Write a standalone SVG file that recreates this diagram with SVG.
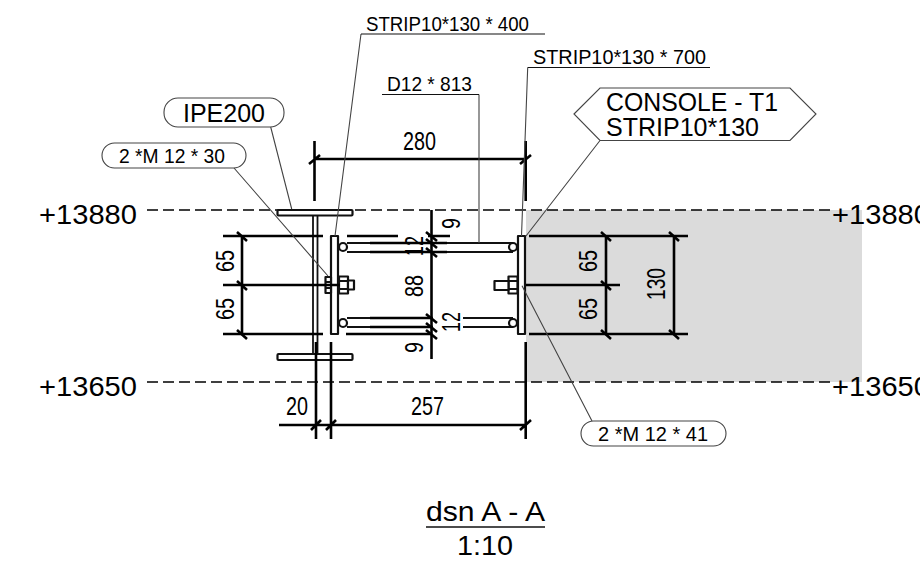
<svg xmlns="http://www.w3.org/2000/svg" width="920" height="571" viewBox="0 0 920 571">
<style>
text{font-family:"Liberation Sans",Arial,sans-serif;fill:#000}
.t{fill:none;stroke:#000;stroke-width:2.6}
.m{fill:none;stroke:#111;stroke-width:1.8}
.d{fill:none;stroke:#000;stroke-width:1.3;stroke-dasharray:11 5}
.l{fill:none;stroke:#444;stroke-width:1.1}
.u{fill:none;stroke:#111;stroke-width:1.2}
.s{fill:#fff;stroke:#111;stroke-width:2.2;stroke-linejoin:round}
.c{fill:#fff;stroke:#444;stroke-width:1.1}
.f20{font-size:20.5px}.f25{font-size:25px}.f26{font-size:26px}
</style>
<rect id="concrete" x="526" y="210" width="336" height="172" fill="#dbdbdb"/>
<g id="levels">
<path class="d" d="M147 210H832M147 382H832"/>
<text x="39" y="224" font-size="27" textLength="98" lengthAdjust="spacingAndGlyphs">+13880</text>
<text x="39" y="396" font-size="27" textLength="98" lengthAdjust="spacingAndGlyphs">+13650</text>
<text x="832" y="224" font-size="27" textLength="98" lengthAdjust="spacingAndGlyphs">+13880</text>
<text x="832" y="396" font-size="27" textLength="98" lengthAdjust="spacingAndGlyphs">+13650</text>
</g>
<g id="beam">
<path class="m" d="M313 216V353M317.5 216V353"/>
<rect class="s" x="277.5" y="210" width="75" height="5.5" rx="1"/>
<rect class="s" x="277.5" y="354" width="75" height="6" rx="1"/>
</g>
<g id="rods">
<path class="m" d="M347 243H513M347 252H513M463 318H513M463 327H513"/>
<path class="m" d="M347 318H433M347 327H433"/>
<path class="t" d="M347 236H398M370 243H447M370 252H447M346 334H432M370 318H433M370 327H433M428 236H450"/>
<circle class="s" cx="343" cy="247" r="4"/>
<circle class="s" cx="343" cy="323" r="4"/>
<circle class="s" cx="513" cy="247" r="4"/>
<circle class="s" cx="513" cy="323" r="4"/>
</g>
<g id="plates">
<rect class="s" x="331" y="236" width="7" height="98"/>
<rect class="s" x="518" y="236" width="7" height="98"/>
</g>
<g id="bolts">
<rect class="s" x="325.5" y="277" width="5.5" height="16"/>
<path class="s" d="M325.5 282H331M325.5 288H331"/>
<rect class="s" x="339" y="276.500" width="9" height="17"/>
<path class="s" d="M339 281H348M339 289H348"/>
<rect class="s" x="348" y="280.500" width="6" height="9"/>
<rect class="s" x="508.500" y="276.500" width="9" height="17"/>
<path class="s" d="M508.500 281H517.500M508.500 289H517.500"/>
<rect class="s" x="494.500" y="281" width="14" height="9"/>
</g>
<g id="dimensions">
<path class="t" d="M223 236H323M223 285H340M223 334H323M242 236V334"/>
<path class="t" d="M237 232L247 241M237 281L247 290M237 330L247 339"/>
<path class="t" d="M529 236H688M526 285H620M529 334H688M606 236V334M674 236V334"/>
<path class="t" d="M601 232L611 241M601 281L611 290M601 330L611 339M669 232L679 241M669 330L679 339"/>
<path class="t" d="M431.500 210V359"/>
<path class="t" d="M426 232L437 241M426 239L437 248M426 248L437 257M426 314L437 323M426 323L437 332M426 330L437 339"/>
<path class="t" d="M314.500 141V201M525.700 141V201M314.500 159H525.700M309 164L320 155M520 164L531 155"/>
<path class="t" d="M316 342V439M331 342V439M525.700 342V439M279 425H525.700M311 430L321 420M326 430L336 420M520 430L531 420"/>
<text class="f25" x="403" y="150" textLength="33" lengthAdjust="spacingAndGlyphs">280</text>
<text class="f25" x="286" y="415" textLength="22" lengthAdjust="spacingAndGlyphs">20</text>
<text class="f25" x="411" y="415" textLength="33" lengthAdjust="spacingAndGlyphs">257</text>
<text class="f26" transform="translate(234 272) rotate(-90)" textLength="22" lengthAdjust="spacingAndGlyphs">65</text>
<text class="f26" transform="translate(234 320) rotate(-90)" textLength="22" lengthAdjust="spacingAndGlyphs">65</text>
<text class="f26" transform="translate(597 272) rotate(-90)" textLength="22" lengthAdjust="spacingAndGlyphs">65</text>
<text class="f26" transform="translate(597 320) rotate(-90)" textLength="22" lengthAdjust="spacingAndGlyphs">65</text>
<text class="f26" transform="translate(665 300) rotate(-90)" textLength="32" lengthAdjust="spacingAndGlyphs">130</text>
<text class="f26" transform="translate(423 297) rotate(-90)" textLength="22" lengthAdjust="spacingAndGlyphs">88</text>
<text class="f26" transform="translate(423 256) rotate(-90)" textLength="20" lengthAdjust="spacingAndGlyphs">12</text>
<text class="f26" transform="translate(460 332) rotate(-90)" textLength="20" lengthAdjust="spacingAndGlyphs">12</text>
<text class="f26" transform="translate(460 229) rotate(-90)" textLength="11" lengthAdjust="spacingAndGlyphs">9</text>
<text class="f26" transform="translate(423 353) rotate(-90)" textLength="11" lengthAdjust="spacingAndGlyphs">9</text>
</g>
<g id="leaders">
<path class="l" d="M361 34L335 236M527.700 67.500L521.500 236M479 94.500V243M600 140.500L526 236M270.700 127L291.700 209M234 168L328 276M592 421L522 285.700"/>
</g>
<g id="label-strip400">
<path class="u" d="M361 34H545"/>
<text class="f20" x="366" y="30.500" textLength="163" lengthAdjust="spacingAndGlyphs">STRIP10*130 * 400</text>
</g>
<g id="label-strip700">
<path class="u" d="M527.700 67.500H710"/>
<text class="f20" x="533" y="63.500" textLength="173" lengthAdjust="spacingAndGlyphs">STRIP10*130 * 700</text>
</g>
<g id="label-d12">
<path class="u" d="M382 94.500H479"/>
<text class="f20" x="387" y="90.500" textLength="85" lengthAdjust="spacingAndGlyphs">D12 * 813</text>
</g>
<g id="label-console">
<polygon class="c" points="574,114 600,88 790,88 816,114 790,140.500 600,140.500"/>
<text class="f25" x="606" y="110.500" textLength="172" lengthAdjust="spacingAndGlyphs">CONSOLE - T1</text>
<text class="f25" x="606" y="135.500" textLength="153" lengthAdjust="spacingAndGlyphs">STRIP10*130</text>
</g>
<g id="label-ipe200">
<rect class="c" x="164" y="98" width="120" height="29" rx="14"/>
<text class="f25" x="183" y="121.500" textLength="82" lengthAdjust="spacingAndGlyphs">IPE200</text>
</g>
<g id="label-m12-30">
<rect class="c" x="102" y="143" width="144" height="25" rx="12.500"/>
<text class="f20" x="119" y="163" textLength="106" lengthAdjust="spacingAndGlyphs">2 *M 12 * 30</text>
</g>
<g id="label-m12-41">
<rect class="c" x="581" y="421" width="145" height="25" rx="12.500"/>
<text class="f20" x="598" y="441" textLength="110" lengthAdjust="spacingAndGlyphs">2 *M 12 * 41</text>
</g>
<g id="title">
<path class="u" d="M426 527H545" style="stroke-width:1.500"/>
<text x="426" y="521" font-size="27" textLength="119" lengthAdjust="spacingAndGlyphs">dsn A - A</text>
<text x="457" y="555" font-size="27" textLength="56" lengthAdjust="spacingAndGlyphs">1:10</text>
</g>
</svg>
